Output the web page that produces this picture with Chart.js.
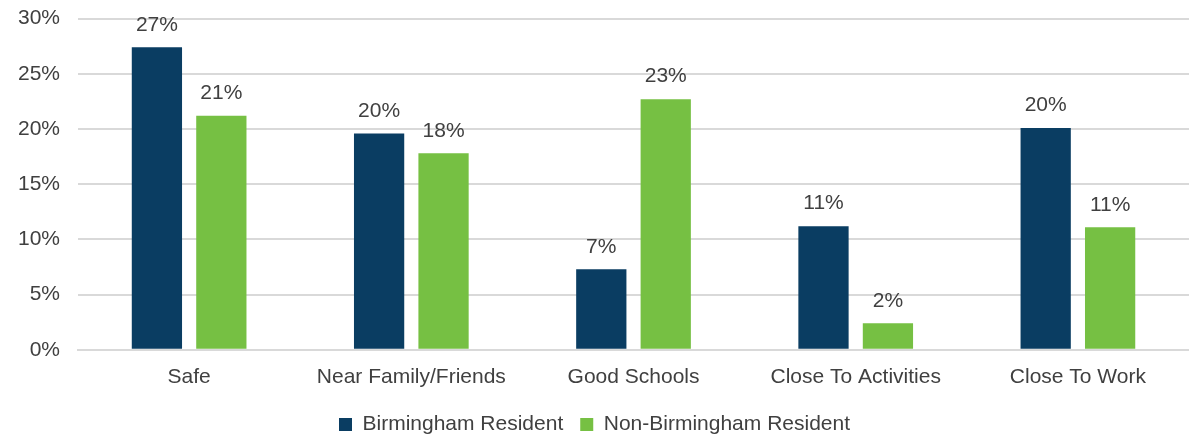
<!DOCTYPE html>
<html>
<head>
<meta charset="utf-8">
<script src="https://cdn.jsdelivr.net/npm/chart.js@4"></script>
<style>
  html, body { margin: 0; padding: 0; background: #fff; overflow: hidden; }
  #wrap { width: 1189px; height: 449px; margin-top: -12px; }
</style>
</head>
<body>
<div id="wrap"><canvas id="chart"></canvas></div>
<script>
const categories = ['Safe', 'Near Family/Friends', 'Good Schools', 'Close To Activities', 'Close To Work'];
const birmingham = [27.4, 19.6, 7.3, 11.2, 20.1];
const nonBirmingham = [21.2, 17.8, 22.7, 2.4, 11.1];
const seriesNames = ['Birmingham Resident', 'Non-Birmingham Resident'];

const textColor = '#404040';
const fontFamily = '"Liberation Sans", Arial, sans-serif';
const fontSize = 21;

// draws the rounded % above each bar
const barLabels = {
    id: 'barLabels',
    afterDatasetsDraw(chart) {
        const ctx = chart.ctx;
        ctx.save();
        ctx.font = fontSize + 'px ' + fontFamily;
        ctx.fillStyle = textColor;
        ctx.textAlign = 'center';
        ctx.textBaseline = 'bottom';
        chart.data.datasets.forEach((ds, i) => {
            chart.getDatasetMeta(i).data.forEach((bar, j) => {
                ctx.fillText(Math.round(ds.data[j]) + '%', bar.x, bar.y - 12);
            });
        });
        ctx.restore();
    }
};

new Chart(document.getElementById('chart').getContext('2d'), {
    type: 'bar',
    data: {
        labels: categories,
        datasets: [
            { label: seriesNames[0], data: birmingham, backgroundColor: '#0A3D62' },
            { label: seriesNames[1], data: nonBirmingham, backgroundColor: '#76C043' }
        ]
    },
    options: {
        responsive: true,
        maintainAspectRatio: false,
        animation: false,
        categoryPercentage: 0.58,
        barPercentage: 0.78,
        layout: { padding: { top: -14, right: 0, left: 0, bottom: -8 } },
        scales: {
            x: {
                grid: { display: false },
                border: { color: '#d9d9d9', width: 2 },
                ticks: { color: textColor, font: { family: fontFamily, size: fontSize }, padding: 7 }
            },
            y: {
                min: 0,
                max: 30,
                grid: { color: '#d9d9d9', lineWidth: 2, drawTicks: false },
                border: { display: false },
                ticks: {
                    stepSize: 5,
                    color: textColor,
                    font: { family: fontFamily, size: fontSize },
                    padding: 18,
                    callback: v => v + '%'
                }
            }
        },
        plugins: {
            legend: {
                position: 'bottom',
                labels: {
                    color: textColor,
                    font: { family: fontFamily, size: fontSize },
                    boxWidth: 13,
                    boxHeight: 13,
                    padding: 17
                }
            },
            tooltip: { enabled: false }
        }
    },
    plugins: [barLabels]
});
</script>
</body>
</html>
